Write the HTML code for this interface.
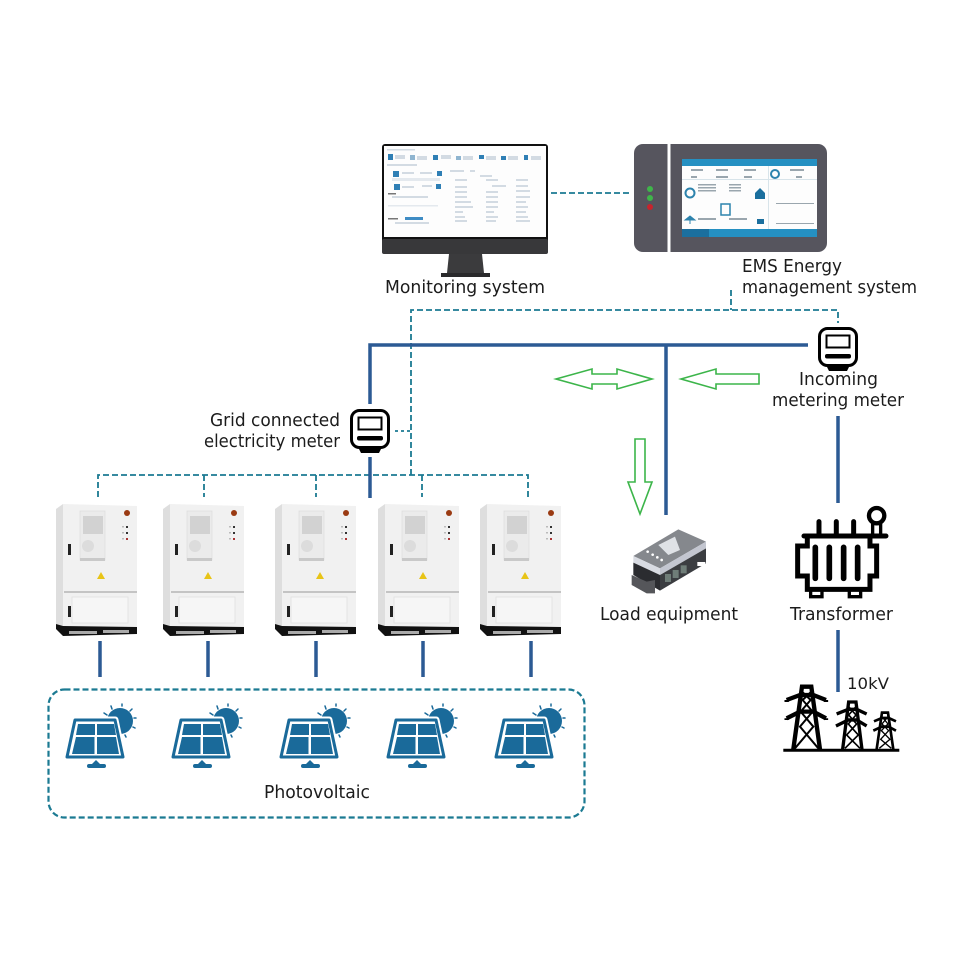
<!DOCTYPE html>
<html><head><meta charset="utf-8"><style>
html,body{margin:0;padding:0;background:#fff}
svg{display:block}
text{font-family:"DejaVu Sans","Liberation Sans",sans-serif;font-size:18px;fill:#1c1c1c}
</style></head><body>
<svg width="960" height="960" viewBox="0 0 960 960" xmlns="http://www.w3.org/2000/svg">
<defs>
<g id="cab">
<polygon points="0,5 7,0 7,122 0,120" fill="#dedede"/>
<polygon points="7,0 81,2 81,123 7,122" fill="#f1f1f1"/>
<rect x="8" y="87" width="73" height="2" fill="#c4c4c4"/>
<rect x="24" y="7" width="25" height="49" fill="#ebebeb" stroke="#dcdcdc" stroke-width=".7"/>
<rect x="27" y="12" width="20" height="18" fill="#d2d2d2"/>
<circle cx="32" cy="42" r="6" fill="#dcdcdc"/>
<rect x="24" y="54" width="25" height="3" fill="#c9c9c9"/>
<circle cx="71" cy="9" r="3" fill="#9a3a12"/>
<rect x="70" y="22" width="2" height="2" fill="#333"/><rect x="70" y="28" width="2" height="2" fill="#333"/><rect x="70" y="34" width="2" height="2" fill="#a33"/>
<rect x="66" y="22" width="2" height="1.500" fill="#bbb"/><rect x="66" y="28" width="2" height="1.500" fill="#bbb"/><rect x="66" y="34" width="2" height="1.500" fill="#bbb"/>
<rect x="16" y="93" width="56" height="26" fill="#f6f6f6" stroke="#e0e0e0" stroke-width=".8"/>
<rect x="12" y="40" width="3" height="11" fill="#222"/>
<rect x="12" y="102" width="3" height="11" fill="#222"/>
<polygon points="45,68 49,75 41,75" fill="#e8c417"/>
<polygon points="0,120 7,122 81,123 81,130 7,132 0,125" fill="#111"/>
<rect x="13" y="127" width="28" height="3" fill="#aaa"/><rect x="47" y="126" width="26" height="3" fill="#aaa"/>
</g>
<g id="pv">
<circle cx="52" cy="2" r="13" fill="#1a6a9a"/>
<g stroke="#1a6a9a" stroke-width="1.500" stroke-linecap="round">
<path d="M36,-6 L39,-4 M43,-13 L44,-10 M54,-15 L54,-13 M64,-10 L62,-8 M68,-1 L66,-1 M67,9 L65,8 M58,18 L57,16"/>
</g>
<polygon points="7,1 47,1 55,38 -1,38" fill="#fff" stroke="#fff" stroke-width="7" stroke-linejoin="round"/>
<polygon points="7,1 47,1 55,38 -1,38" fill="#fff" stroke="#1a6a9a" stroke-width="3" stroke-linejoin="round"/>
<polygon points="10,5 27,5 27,16 8,16" fill="#1a6a9a"/>
<polygon points="29,5 46,5 48,16 29,16" fill="#1a6a9a"/>
<polygon points="8,18 26.500,18 26.500,35 4,35" fill="#1a6a9a"/>
<polygon points="29,18 48,18 51,35 29,35" fill="#1a6a9a"/>
<path d="M24,45 L32,45 L28,41 Z" fill="#1a6a9a"/>
<rect x="19" y="45" width="19" height="4" rx="2" fill="#1a6a9a"/>
</g>
<g id="meter">
<path d="M8,38 L32,38 L29,44 L11,44 Z" fill="#000"/>
<rect x="1.500" y="1.500" width="37" height="37" rx="8" fill="#fff" stroke="#000" stroke-width="3"/>
<rect x="8.500" y="8.500" width="23" height="12" fill="#fff" stroke="#000" stroke-width="2"/>
<rect x="7" y="27" width="26" height="4.500" rx="2" fill="#000"/>
</g>
</defs>

<!-- Monitor -->
<rect x="382" y="144" width="166" height="110" rx="3" fill="#111"/>
<rect x="384" y="146" width="162" height="91" fill="#fdfdfd"/>
<rect x="382" y="239" width="166" height="15" rx="2" fill="#38383a"/>
<polygon points="449,254 482,254 484,273 447,273" fill="#3b3b3d"/>
<rect x="441" y="273" width="49" height="4" fill="#2a2a2c"/>
<g fill="#d3dbe3">
<rect x="387" y="149" width="28" height="1.500"/>
<rect x="388" y="154" width="5" height="6" fill="#2f7fb5"/><rect x="410" y="155" width="5" height="5" fill="#8fb5d0"/><rect x="433" y="155" width="5" height="5" fill="#2f7fb5"/><rect x="456" y="156" width="5" height="4" fill="#8fb5d0"/><rect x="479" y="155" width="5" height="4" fill="#2f7fb5"/><rect x="501" y="156" width="5" height="4" fill="#2f7fb5"/><rect x="524" y="155" width="4" height="5" fill="#2f7fb5"/>
<rect x="395" y="155" width="10" height="4"/><rect x="417" y="156" width="10" height="4"/><rect x="441" y="155" width="10" height="4"/><rect x="463" y="156" width="10" height="4"/><rect x="486" y="156" width="10" height="4"/><rect x="508" y="156" width="10" height="4"/><rect x="531" y="156" width="10" height="4"/>
<rect x="387" y="164" width="30" height="2"/>
<rect x="393" y="171" width="6" height="6" fill="#2f7fb5"/><rect x="402" y="172" width="12" height="2"/><rect x="420" y="172" width="12" height="2"/><rect x="437" y="171" width="5" height="5" fill="#2f7fb5"/>
<rect x="392" y="178" width="48" height="3" fill="#e4e9ee"/>
<rect x="394" y="184" width="6" height="6" fill="#2f7fb5"/><rect x="402" y="186" width="12" height="2"/><rect x="422" y="185" width="10" height="2"/><rect x="436" y="184" width="5" height="5" fill="#2f7fb5"/>
<rect x="388" y="193" width="8" height="1.500" fill="#777"/>
<rect x="392" y="196" width="36" height="2"/>
<rect x="388" y="205" width="50" height="1.500" fill="#e4e9ee"/>
<rect x="388" y="218" width="10" height="1.500" fill="#777"/>
<rect x="405" y="217" width="18" height="3" fill="#3f8cc4"/>
<rect x="395" y="222" width="34" height="2"/>
<rect x="450" y="170" width="14" height="2"/><rect x="470" y="170" width="5" height="2"/>
<rect x="480" y="175" width="12" height="2"/>
<rect x="455" y="179" width="12" height="2"/><rect x="486" y="179" width="12" height="2"/><rect x="516" y="179" width="12" height="2"/>
<rect x="455" y="186" width="12" height="2"/><rect x="492" y="185" width="14" height="2"/><rect x="516" y="185" width="12" height="2"/>
<rect x="455" y="191" width="12" height="2"/><rect x="486" y="191" width="12" height="2"/><rect x="516" y="190" width="14" height="2"/>
<rect x="455" y="196" width="12" height="2"/><rect x="486" y="196" width="12" height="2"/><rect x="516" y="196" width="14" height="2"/>
<rect x="455" y="201" width="16" height="2"/><rect x="486" y="201" width="12" height="2"/><rect x="516" y="201" width="10" height="2"/>
<rect x="455" y="206" width="18" height="2"/><rect x="486" y="206" width="12" height="2"/><rect x="516" y="206" width="12" height="2"/>
<rect x="455" y="211" width="8" height="2"/><rect x="486" y="211" width="8" height="2"/><rect x="516" y="211" width="10" height="2"/>
<rect x="455" y="216" width="10" height="2"/><rect x="486" y="216" width="12" height="2"/><rect x="516" y="216" width="12" height="2"/>
<rect x="455" y="220" width="12" height="2"/><rect x="486" y="220" width="10" height="2"/><rect x="516" y="220" width="14" height="2"/>
</g>

<!-- EMS -->
<rect x="634" y="144" width="193" height="108" rx="9" fill="#56555e"/>
<rect x="667.500" y="144" width="3" height="108" fill="#fff"/>
<circle cx="650" cy="189" r="3" fill="#3fb54a"/><circle cx="650" cy="198" r="3" fill="#3fb54a"/><circle cx="650" cy="207" r="3" fill="#c8232c"/>
<rect x="682" y="159" width="135" height="78" fill="#fdfdfd"/>
<rect x="682" y="159" width="135" height="7" fill="#2590c2"/>
<rect x="682" y="229" width="135" height="8" fill="#2590c2"/>
<rect x="682" y="229" width="27" height="8" fill="#1b6f9e"/>
<rect x="768" y="166" width="1" height="63" fill="#d8e4ea"/><rect x="682" y="179" width="135" height="1" fill="#d8e4ea"/>
<g fill="#9aa6ae">
<rect x="691" y="169" width="12" height="2"/><rect x="716" y="169" width="12" height="2"/><rect x="744" y="169" width="12" height="2"/><rect x="790" y="169" width="14" height="2"/>
<rect x="691" y="176" width="6" height="2"/><rect x="716" y="176" width="12" height="2"/><rect x="744" y="176" width="8" height="2"/><rect x="796" y="176" width="6" height="2"/>
<rect x="698" y="184" width="18" height="1.500"/><rect x="698" y="187" width="18" height="1.500"/><rect x="698" y="190" width="18" height="1.500"/><rect x="729" y="184" width="12" height="1.500"/><rect x="729" y="187" width="12" height="1.500"/><rect x="729" y="190" width="12" height="1.500"/>
<rect x="698" y="218" width="18" height="2"/><rect x="729" y="218" width="18" height="2"/>
<rect x="776" y="203" width="38" height="1"/><rect x="776" y="223" width="38" height="1"/>
</g>
<circle cx="690" cy="193" r="4.500" fill="none" stroke="#2d83ad" stroke-width="2"/>
<path d="M755,193 L760,188 L765,193 V199 H755 Z" fill="#1b6f9e"/>
<rect x="721" y="204" width="9" height="11" fill="none" stroke="#2d83ad" stroke-width="1.500"/>
<path d="M685,220 L690,216 L695,220 Z M690,220 V224" fill="#2d83ad" stroke="#2d83ad"/>
<rect x="757" y="219" width="7" height="5" fill="#1b6f9e"/>
<circle cx="775" cy="174" r="4" fill="none" stroke="#2d83ad" stroke-width="2"/>

<!-- dashed comm lines -->
<g fill="none" stroke="#1b7a92" stroke-width="1.800" stroke-dasharray="6 3">
<path d="M551,193 H631"/>
<path d="M731,290 V310"/>
<path d="M411,475 V310 H838 V323"/>
<path d="M395,431 H411" stroke-dasharray="3 3"/>
<path d="M98,497 V475 H528 V497"/>
<path d="M204,475 V497 M316,475 V497 M422,475 V497"/>
<rect x="48.500" y="689.500" width="536" height="128" rx="16" stroke-width="2.200"/>
</g>

<!-- power lines -->
<g fill="none" stroke="#2c5a94" stroke-width="3.500">
<path d="M370,404 V345 H808"/>
<path d="M370,457 V498"/>
<path d="M666,345 V515"/>
<path d="M838,416 V503"/>
<path d="M838,630 V692"/>
<path d="M100,641 V677 M208,641 V677 M316,641 V677 M423,641 V677 M531,641 V677"/>
</g>

<!-- green arrows -->
<g fill="#fff" stroke="#3cb54a" stroke-width="1.600">
<polygon points="556,379 592,369 592,374 617,374 617,369 652,379 617,389 617,384 592,384 592,389"/>
<polygon points="681,379 716,369 716,374 759,374 759,384 716,384 716,389"/>
<polygon points="640,514 628,482 635,482 635,439 645,439 645,482 652,482"/>
</g>

<use href="#meter" x="350" y="409"/>
<use href="#meter" x="818" y="327"/>

<use href="#cab" x="56" y="504"/>
<use href="#cab" x="163" y="504"/>
<use href="#cab" x="275" y="504"/>
<use href="#cab" x="378" y="504"/>
<use href="#cab" x="480" y="504"/>

<use href="#pv" x="68" y="719"/>
<use href="#pv" x="174" y="719"/>
<use href="#pv" x="282" y="719"/>
<use href="#pv" x="389" y="719"/>
<use href="#pv" x="497" y="719"/>

<!-- load equipment -->
<g transform="translate(600,500) scale(.3333)">
<polygon points="100,168 235,88 318,125 180,205" fill="#85888d"/>
<polygon points="100,168 180,205 180,225 100,188" fill="#d8dbe2"/>
<polygon points="180,205 318,125 318,145 180,225" fill="#c3c6d0"/>
<polygon points="100,188 180,225 180,272 100,225" fill="#2b2c30"/>
<polygon points="180,225 318,145 318,190 180,272" fill="#3b3d41"/>
<polygon points="95,225 140,245 165,240 165,280 140,280 95,255" fill="#55565a"/>
<polygon points="175,135 225,110 240,150 205,165" fill="#dfe2e6"/>
<g fill="#6f7d78"><rect x="195" y="222" width="18" height="24"/><rect x="218" y="210" width="18" height="24"/><rect x="242" y="196" width="18" height="24"/></g>
<g fill="#fff"><circle cx="143" cy="155" r="4"/><circle cx="158" cy="164" r="4"/><circle cx="172" cy="172" r="4"/><circle cx="185" cy="180" r="4"/><rect x="292" y="186" width="24" height="12"/></g>
</g>

<!-- transformer -->
<g transform="translate(600,500) scale(.3333)" fill="none" stroke="#000" stroke-width="15">
<path d="M612,108 H858" stroke-linecap="round"/>
<path d="M622,108 V138 H593 V228 H622 V268 H810 V228 H830 V138 H810 V108"/>
<path d="M657,65 V105 M709,65 V105 M761,65 V105" stroke-linecap="round"/>
<path d="M646,142 V235 M688,142 V235 M731,142 V235 M773,142 V235" stroke-linecap="round" stroke-width="17"/>
<circle cx="830" cy="47" r="23" stroke-width="13"/>
<path d="M818,70 V105 M842,70 V105" stroke-width="10"/>
<path d="M632,272 V290 H666 V272 M748,272 V290 H782 V272" stroke-width="10"/>
</g>

<!-- towers -->
<g transform="translate(600,500) scale(.3333)" fill="none" stroke="#000">
<path d="M550,751 H898" stroke-width="9"/>
<g stroke-width="13">
<path d="M580,748 L606,560 H634 L660,748"/>
<path d="M560,600 L600,585 H640 L678,600 M560,655 L600,635 H640 L678,655 M560,600 V606 M678,600 V606 M560,655 V660 M678,655 V660"/>
<path d="M606,575 L632,600 L602,635 L640,680 L585,745 M634,575 L608,600 L638,635 L600,680 L655,745" stroke-width="6"/>
</g>
<g stroke-width="10">
<path d="M728,748 L746,606 H768 L786,748"/>
<path d="M710,642 L745,628 H770 L800,642 M708,678 L745,660 H770 L800,678"/>
<path d="M746,620 L768,645 L745,672 L775,705 L735,745 M768,620 L746,645 L770,672 L740,705 L780,745" stroke-width="5"/>
</g>
<g stroke-width="8">
<path d="M830,748 L846,638 H864 L880,748"/>
<path d="M822,664 L846,654 H866 L888,664 M820,692 L846,680 H866 L888,692"/>
<path d="M846,650 L864,672 L844,692 L870,718 L838,745 M864,650 L846,672 L866,692 L842,718 L874,745" stroke-width="4"/>
</g>
</g>

<!-- labels -->
<text x="385" y="293" textLength="160" lengthAdjust="spacingAndGlyphs">Monitoring system</text>
<text x="742" y="272" textLength="100" lengthAdjust="spacingAndGlyphs">EMS Energy</text>
<text x="742" y="293" textLength="175" lengthAdjust="spacingAndGlyphs">management system</text>
<text x="210" y="426" textLength="130" lengthAdjust="spacingAndGlyphs">Grid connected</text>
<text x="204" y="447" textLength="136" lengthAdjust="spacingAndGlyphs">electricity meter</text>
<text x="799" y="385" textLength="79" lengthAdjust="spacingAndGlyphs">Incoming</text>
<text x="772" y="406" textLength="132" lengthAdjust="spacingAndGlyphs">metering meter</text>
<text x="600" y="620" textLength="138" lengthAdjust="spacingAndGlyphs">Load equipment</text>
<text x="790" y="620" textLength="103" lengthAdjust="spacingAndGlyphs">Transformer</text>
<text x="847" y="689" style="font-size:16px" textLength="42" lengthAdjust="spacingAndGlyphs">10kV</text>
<text x="264" y="798" textLength="106" lengthAdjust="spacingAndGlyphs">Photovoltaic</text>
</svg>
</body></html>
